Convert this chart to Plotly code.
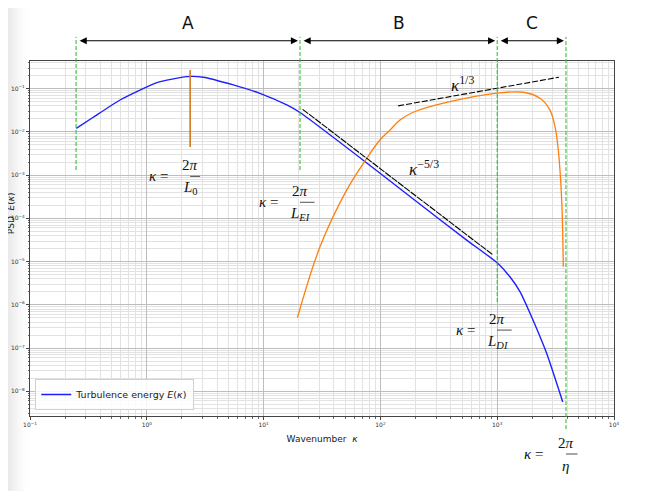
import numpy as np
import plotly.graph_objects as go

# Turbulence energy spectrum E(k)
kappa_energy = [0.249, 0.348, 0.59, 1.22, 2.2, 3.05, 5.5, 9.3, 15.8, 20.5,
                76, 191, 548, 995, 1290, 1570, 1910, 2655, 3640]
E_energy = [0.0121, 0.0218, 0.0547, 0.138, 0.19, 0.184, 0.122, 0.078, 0.042, 0.0281,
            0.00194, 2.8e-4, 3.15e-5, 9.5e-6, 4.4e-6, 2.0e-6, 6.4e-7, 7.5e-8, 5.7e-9]

# dissipation-like curve (orange)
kappa_diss = [19.5, 30.4, 51.4, 76.4, 99, 121, 147, 191, 369, 990,
              1675, 2323, 2830, 3125, 3335, 3565, 3680]
E_diss = [5.1e-7, 2.2e-5, 4.5e-4, 2.45e-3, 6.5e-3, 0.0111, 0.0188, 0.0285, 0.048, 0.079,
          0.0826, 0.060, 0.032, 0.0132, 3.8e-3, 2.65e-4, 7.6e-6]

# reference slopes
kappa_m53 = [21.6, 908]
E_m53 = [0.0333, 1.47e-5]
kappa_p13 = [142, 3380]
E_p13 = [0.040, 0.184]

# integral scale marker
kappa_L0 = [2.35, 2.35]
E_L0 = [0.271, 0.0045]

# range boundaries 2pi/L0, 2pi/L_EI, 2pi/L_DI, 2pi/eta
kappa_bounds = [0.248, 20.5, 1000, 3880]
region_names = ["A", "B", "C"]
bound_numer = ["2<i>π</i>"] * 4
bound_denom = ["<i>L</i><sub>0</sub>", "<i>L</i><sub><i>EI</i></sub>",
               "<i>L</i><sub><i>DI</i></sub>", "<i>η</i>"]
label_kappa = [2.35, 20.5, 1000, 3880]

# axis ticks
x_ticks = [0.1, 1, 10, 100, 1000, 10000]
x_ticktext = ["10<sup>−1</sup>", "10<sup>0</sup>", "10<sup>1</sup>",
              "10<sup>2</sup>", "10<sup>3</sup>", "10<sup>4</sup>"]
y_ticks = [1e-8, 1e-7, 1e-6, 1e-5, 1e-4, 1e-3, 1e-2, 1e-1]
y_ticktext = ["10<sup>−8</sup>", "10<sup>−7</sup>", "10<sup>−6</sup>", "10<sup>−5</sup>",
              "10<sup>−4</sup>", "10<sup>−3</sup>", "10<sup>−2</sup>", "10<sup>−1</sup>"]
x_minor = [m * 10.0 ** e for e in range(-1, 4) for m in range(2, 10)]
y_minor = [m * 10.0 ** e for e in range(-9, 0) for m in range(2, 10)]

BLUE = "#1f1fff"
ORANGE = "#ff7f0e"
GREEN = "#22bb22"
SERIF = "Liberation Serif"

fig = go.Figure()

fig.add_trace(go.Scatter(x=kappa_energy, y=E_energy, mode="lines",
                         line=dict(color=BLUE, width=1.4, shape="spline", smoothing=0.5),
                         name="Turbulence energy <i>E</i>(<i>κ</i>)"))
fig.add_trace(go.Scatter(x=kappa_diss, y=E_diss, mode="lines",
                         line=dict(color=ORANGE, width=1.3, shape="spline"), showlegend=False))
fig.add_trace(go.Scatter(x=kappa_L0, y=E_L0, mode="lines",
                         line=dict(color="#d07a1e", width=1.6), showlegend=False))
fig.add_trace(go.Scatter(x=kappa_m53, y=E_m53, mode="lines",
                         line=dict(color="black", width=1.1, dash="7px,1px"), showlegend=False))
fig.add_trace(go.Scatter(x=kappa_p13, y=E_p13, mode="lines",
                         line=dict(color="black", width=1.1, dash="6px,2px"), showlegend=False))

# green boundary lines (reach above the axes)
line_bottoms = [0.693, 0.693, 0.321, -0.037]
for k, yb in zip(kappa_bounds, line_bottoms):
    fig.add_shape(type="line", xref="x", yref="paper", x0=k, x1=k, y0=yb, y1=1.068,
                  line=dict(color=GREEN, width=1, dash="4px,2px"))

# double arrows + region letters
for i, name in enumerate(region_names):
    k0, k1 = kappa_bounds[i], kappa_bounds[i + 1]
    fig.add_annotation(x=np.log10(k1), y=1.057, xref="x", yref="paper",
                       ax=np.log10(k0), ay=0, axref="x", ayref="pixel",
                       text="", showarrow=True, arrowhead=2, arrowside="end+start",
                       arrowsize=1.3, arrowwidth=1.1, arrowcolor="black",
                       standoff=2, startstandoff=2)
    fig.add_annotation(x=0.5 * (np.log10(k0) + np.log10(k1)), y=1.107, xref="x", yref="paper",
                       xanchor="center", yanchor="middle",
                       text=name, showarrow=False,
                       font=dict(family="DejaVu Sans", size=17, color="#111"))

# kappa = 2pi / L fractions
bar_y = [0.675, 0.602, 0.242, -0.107]
bar_half = [10, 14.5, 14.5, 11.5]
for k, yb, hw, num, den in zip(label_kappa, bar_y, bar_half, bound_numer, bound_denom):
    lk = np.log10(k)
    fig.add_shape(type="line", xref="x", yref="paper", xsizemode="pixel", xanchor=k,
                  x0=-hw, x1=hw, y0=yb, y1=yb, line=dict(color="#222", width=0.8))
    common = dict(x=lk, y=yb, xref="x", yref="paper", showarrow=False,
                  xanchor="center", yanchor="middle",
                  font=dict(family=SERIF, size=15, color="#111"))
    fig.add_annotation(text=num, yshift=11, **common)
    fig.add_annotation(text=den, yshift=-12, **common)
    fig.add_annotation(text="<i>κ</i> =", xshift=-32, **common)

# slope labels
fig.add_annotation(x=2.373, y=-2.836, text="<i>κ</i><sup>−5/3</sup>", showarrow=False,
                   xanchor="center", yanchor="middle",
                   font=dict(family=SERIF, size=17, color="#111"))
fig.add_annotation(x=2.699, y=-0.89, text="<i>κ</i><sup>1/3</sup>", showarrow=False,
                   xanchor="center", yanchor="middle",
                   font=dict(family=SERIF, size=17, color="#111"))

# y title, partly cut by the page edge as in the source
fig.add_annotation(x=-0.032, y=0.572, xref="paper", yref="paper", text="PSD  <i>E</i>(<i>κ</i>)",
                   xanchor="center", yanchor="middle",
                   textangle=-90, showarrow=False, font=dict(family="DejaVu Sans", size=9, color="#222"))

# soft page shadow on the left edge (page x 8..28)
n = 10
for i in range(n):
    px = 8 + i * 2
    x0 = (px - 30) / 584
    fig.add_shape(type="rect", xref="paper", yref="paper", x0=x0, x1=x0 + 2 / 584,
                  y0=-0.3, y1=1.2, fillcolor="#b0b0b0", opacity=0.45 * (1 - px / 28) ** 1.5,
                  line_width=0, layer="below")

axis_common = dict(type="log", automargin=False,
                   showgrid=True, gridcolor="#bdbdbd", gridwidth=1,
                   showline=True, linecolor="#444", linewidth=1, mirror=True,
                   ticks="outside", ticklen=3, tickcolor="#444",
                   tickfont=dict(family="DejaVu Sans", size=6, color="#333"),
                   zeroline=False)
minor_common = dict(showgrid=True, gridcolor="#e2e2e2", gridwidth=0.8,
                    ticks="outside", ticklen=1.5, tickcolor="#666")

fig.update_layout(
    width=648, height=483,
    margin=dict(l=22, r=42, t=53, b=75),
    paper_bgcolor="white", plot_bgcolor="white",
    xaxis=dict(range=[-1, 4], tickvals=x_ticks, ticktext=x_ticktext, **axis_common,
               minor=dict(tickvals=x_minor, **minor_common),
               title=dict(text="Wavenumber  <i>κ</i>", standoff=8,
                          font=dict(family="DejaVu Sans", size=9, color="#222"))),
    yaxis=dict(range=[-8.57, -0.36], tickvals=y_ticks, ticktext=y_ticktext, **axis_common,
               minor=dict(tickvals=y_minor, **minor_common)),
    legend=dict(x=0.009, y=0.017, xanchor="left", yanchor="bottom",
                bgcolor="rgba(255,255,255,0.85)", bordercolor="#d0d0d0", borderwidth=1,
                font=dict(family="DejaVu Sans", size=9.5, color="#222")),
    showlegend=True,
)

fig.write_html("out.html")
